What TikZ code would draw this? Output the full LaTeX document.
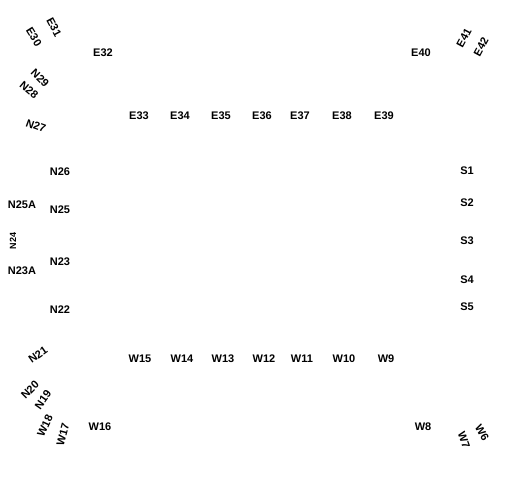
\documentclass[tikz,border=0pt]{standalone}
\usepackage{fontspec}
\setmainfont{Liberation Sans}
\tikzset{
  lbl/.style={font=\fontsize{11}{13}\selectfont\bfseries, inner sep=0pt}
}
\begin{document}
\begin{tikzpicture}[x=1pt,y=-1pt]
\useasboundingbox (0,0) rectangle (507,480);
% top row
\foreach \n/\x in {33/139,34/180,35/221,36/262,37/300,38/342,39/384}
  \node[lbl] (e\n) at (\x,116) {E\n};
% bottom row
\foreach \n/\x in {15/140,14/182,13/223,12/264,11/302,10/344,9/386}
  \node[lbl] (w\n) at (\x,359) {W\n};
% right side
\foreach \n/\y in {1/171,2/203,3/241,4/280,5/307}
  \node[lbl] (s\n) at (467,\y) {S\n};
% left side
\node[lbl] (n26) at (60,172) {N26};
\node[lbl] (n25a) at (22,205) {N25A};
\node[lbl] (n25) at (60,210) {N25};
\node[lbl,rotate=90,font=\fontsize{9}{11}\selectfont\bfseries] (n24) at (13,241) {N24};
\node[lbl] (n23) at (60,262) {N23};
\node[lbl] (n23a) at (22,271) {N23A};
\node[lbl] (n22) at (60,310) {N22};
% top left corner
\node[lbl,rotate=-62] (e31) at (54,27) {E31};
\node[lbl,rotate=-58] (e30) at (34,37) {E30};
\node[lbl] (e32) at (103,53) {E32};
\node[lbl,rotate=-45] (n29) at (40,78) {N29};
\node[lbl,rotate=-40] (n28) at (29,90) {N28};
\node[lbl,rotate=-20] (n27) at (36,126) {N27};
% top right corner
\node[lbl] (e40) at (421,53) {E40};
\node[lbl,rotate=62] (e41) at (464,38) {E41};
\node[lbl,rotate=62] (e42) at (481,47) {E42};
% bottom left corner
\node[lbl,rotate=35] (n21) at (38,355) {N21};
\node[lbl,rotate=45] (n20) at (30,390) {N20};
\node[lbl,rotate=55] (n19) at (43,400) {N19};
\node[lbl,rotate=65] (w18) at (45,426) {W18};
\node[lbl,rotate=75] (w17) at (63,435) {W17};
\node[lbl] (w16) at (100,427) {W16};
% bottom right corner
\node[lbl] (w8) at (423,427) {W8};
\node[lbl,rotate=-70] (w7) at (464,440) {W7};
\node[lbl,rotate=-60] (w6) at (482,433) {W6};
\end{tikzpicture}
\end{document}
